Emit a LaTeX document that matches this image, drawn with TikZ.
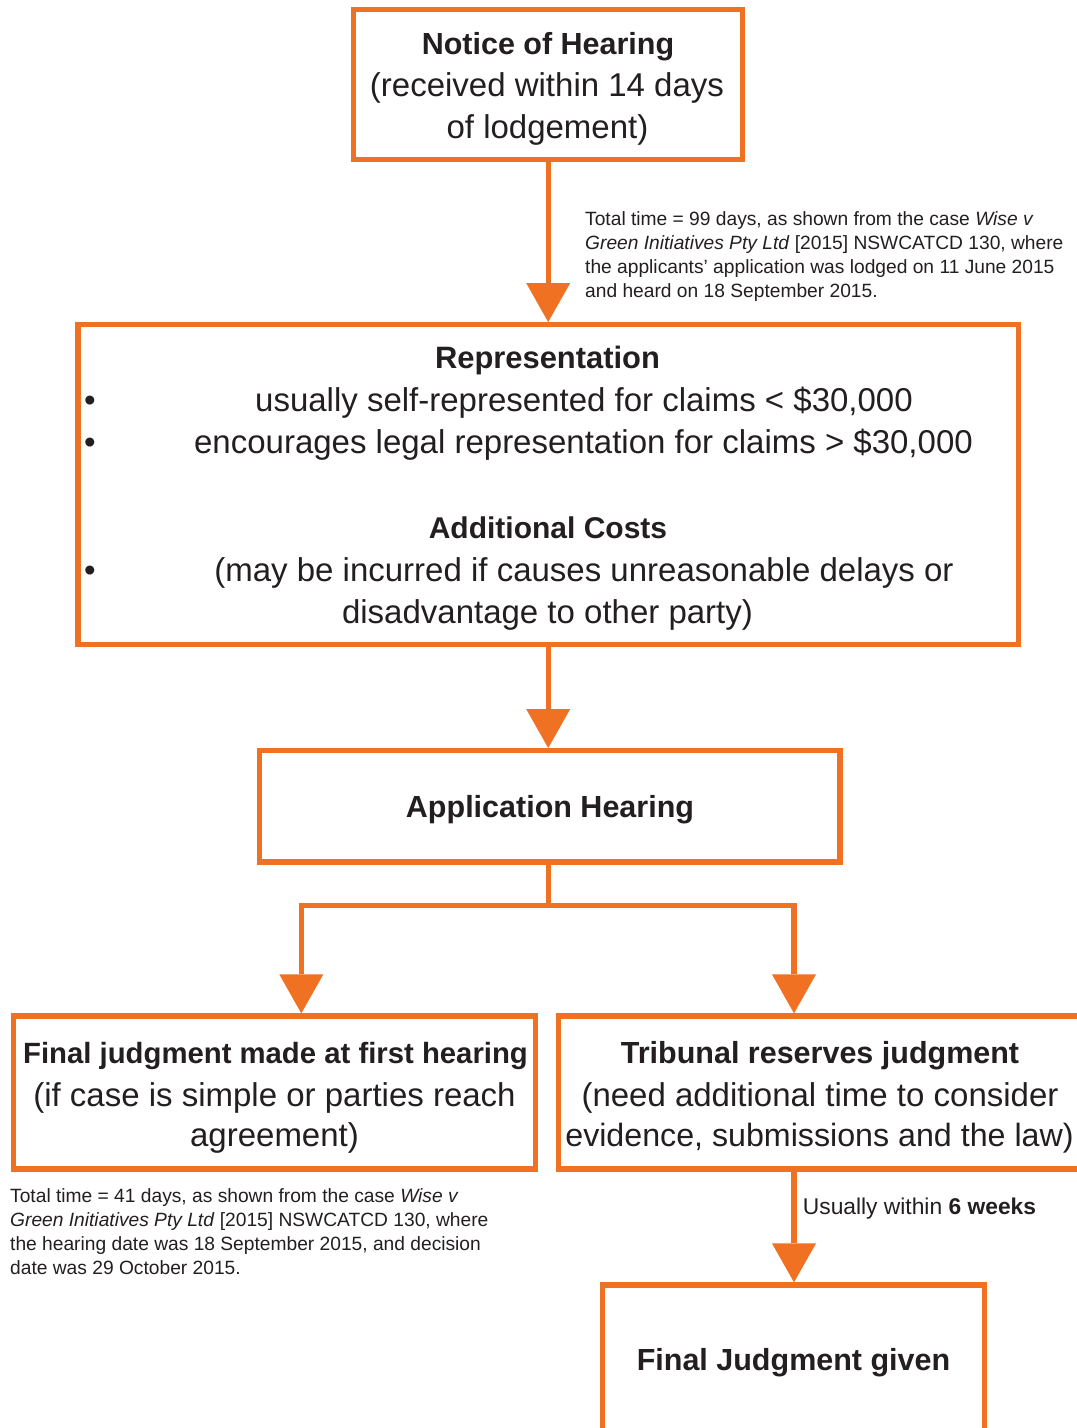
\documentclass[tikz,border=0pt]{standalone}
\usepackage{fontspec}
\setmainfont{Liberation Sans}
\usetikzlibrary{arrows.meta}

\definecolor{flow}{RGB}{240,113,34}
\definecolor{ink}{RGB}{35,31,32}

% type sizes (1 unit = 1pt)
\newcommand\txthead{\bfseries\fontsize{30.5}{42}\selectfont}
\newcommand\txtbody{\fontsize{33}{42}\selectfont}
\newcommand\txtnote{\fontsize{19.2}{24.2}\selectfont}

\begin{document}
\begin{tikzpicture}[x=1pt,y=-1pt,
  box/.style={draw=flow, line width=5.3pt, inner sep=0pt, fill=white},
  conn/.style={draw=flow, line width=5.3pt},
  arr/.style={conn, -{Triangle[length=39pt, width=44pt, line width=0pt]}},
  lbl/.style={text=ink, inner sep=0pt, anchor=base},
  head/.style={lbl, font=\txthead},
  body/.style={lbl, font=\txtbody},
  note/.style={text=ink, inner sep=0pt, align=left, anchor=north west, font=\txtnote}
]
\useasboundingbox (0,0) rectangle (1077,1428);
\fill[white] (0,0) rectangle (1077,1428);
\clip (0,0) rectangle (1077,1428);

% ---- boxes ----
\node[box, minimum width=388.8pt, minimum height=149.8pt] (notice) at (548.2, 84.6) {};
\node[box, minimum width=940.5pt, minimum height=319.6pt] (repr) at (548.2, 484.5) {};
\node[box, minimum width=580.3pt, minimum height=111.3pt] (hear) at (549.9, 806.3) {};
\node[box, minimum width=521.6pt, minimum height=153pt] (final) at (274.5, 1092.5) {};
\node[box, minimum width=522.6pt, minimum height=153pt] (reserve) at (820, 1092.5) {};
\node[box, minimum width=381.8pt, minimum height=150pt] (given) at (793.5, 1360) {};

% ---- box texts ----
\node[head] (t1a) at (548, 54.5) {Notice of Hearing};
\node[body] (t1b) at (547, 96.5) {(received within 14 days};
\node[body] (t1c) at (547.5, 138.5) {of lodgement)};

\node[head, font=\bfseries\fontsize{30.9}{42}\selectfont] (t2a) at (547.5, 368.5) {Representation};
\node[body] (t2b) at (584, 411.5) {usually self-represented for claims < \$30,000};
\node[body] (t2c) at (583.5, 453.5) {encourages legal representation for claims > \$30,000};
\node[head, font=\bfseries\fontsize{30}{42}\selectfont] (t2d) at (548, 538.5) {Additional Costs};
\node[body] (t2e) at (584, 581.5) {(may be incurred if causes unreasonable delays or};
\node[body] (t2f) at (547.5, 623.5) {disadvantage to other party)};
\node[body] (b1) at (90, 411.5) {\textbullet};
\node[body] (b2) at (90, 453.5) {\textbullet};
\node[body] (b3) at (90, 581.5) {\textbullet};

\node[head] (t3) at (550, 817.5) {Application Hearing};

\node[head, font=\bfseries\fontsize{29.3}{42}\selectfont] (t4a) at (275.5, 1063.3) {Final judgment made at first hearing};
\node[body] (t4b) at (274.5, 1106) {(if case is simple or parties reach};
\node[body] (t4c) at (274.5, 1146.7) {agreement)};

\node[head] (t5a) at (820, 1063.3) {Tribunal reserves judgment};
\node[body] (t5b) at (820, 1106) {(need additional time to consider};
\node[body, font=\fontsize{32.2}{42}\selectfont] (t5c) at (819.5, 1146.7) {evidence, submissions and the law)};

\node[head] (t6) at (793.5, 1370.3) {Final Judgment given};

% ---- notes ----
\node[note] (n1) at (585, 211) {Total time = 99 days, as shown from the case \textit{Wise v}\\
  \textit{Green Initiatives Pty Ltd} [2015] NSWCATCD 130, where\\
  the applicants’ application was lodged on 11 June 2015\\
  and heard on 18 September 2015.};
\node[note] (n2) at (10, 1188) {Total time = 41 days, as shown from the case \textit{Wise v}\\
  \textit{Green Initiatives Pty Ltd} [2015] NSWCATCD 130, where\\
  the hearing date was 18 September 2015, and decision\\
  date was 29 October 2015.};
\node[lbl, anchor=base west, font=\fontsize{22.8}{28}\selectfont] (n3) at (802.7, 1214.3) {Usually within \textbf{6 weeks}};

% ---- connectors ----
\coordinate (split) at (548.2, 905.8);
\coordinate (jl) at (301.3, 905.8);
\coordinate (jr) at (794, 905.8);

\draw[arr] (notice.south) -- (repr.north);
\draw[arr] (repr.south) -- (repr.south |- hear.north);
\draw[conn] (split |- hear.south) -- (split);
\draw[arr] (split) -| (jl |- final.north);
\draw[arr] (split) -| (jr |- reserve.north);
\draw[arr] (jr |- reserve.south) -- (jr |- given.north);
\end{tikzpicture}
\end{document}
